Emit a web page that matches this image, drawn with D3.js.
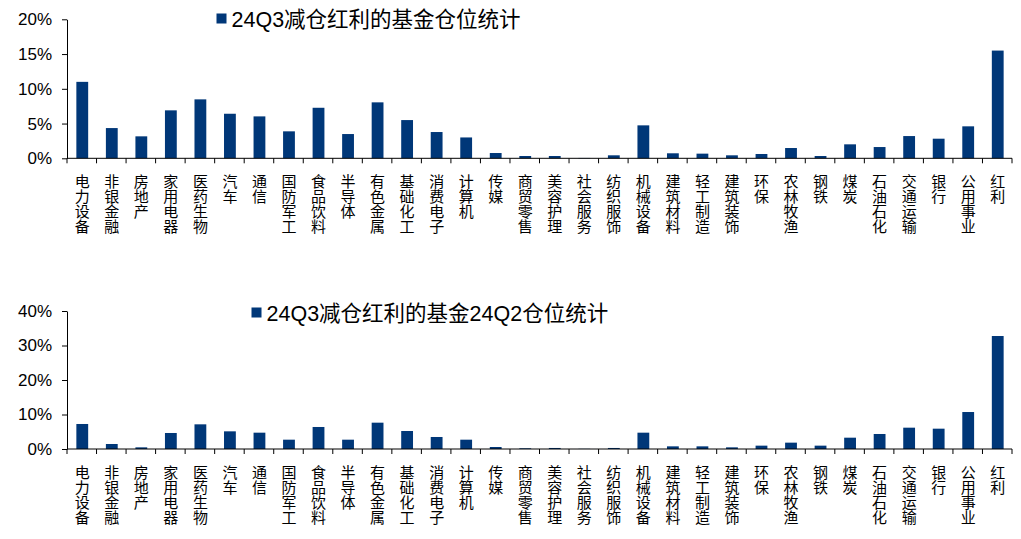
<!DOCTYPE html>
<html><head><meta charset="utf-8">
<script src="https://cdn.jsdelivr.net/npm/d3@7"></script>
<style>
html,body{margin:0;padding:0;background:#fff;}
svg{display:block;}
text{font-family:"Liberation Sans","Noto Sans CJK SC",sans-serif;fill:#000;}
</style></head>
<body>
<svg id="chart" width="1021" height="539"></svg>
<script>
const categories = ["电力设备","非银金融","房地产","家用电器","医药生物","汽车","通信","国防军工","食品饮料","半导体","有色金属","基础化工","消费电子","计算机","传媒","商贸零售","美容护理","社会服务","纺织服饰","机械设备","建筑材料","轻工制造","建筑装饰","环保","农林牧渔","钢铁","煤炭","石油石化","交通运输","银行","公用事业","红利"];
const q3Values = [11.0,4.35,3.16,6.9,8.48,6.41,6.03,3.88,7.27,3.49,8.05,5.5,3.78,3.0,0.76,0.33,0.33,0.05,0.43,4.74,0.72,0.67,0.43,0.62,1.48,0.33,2.01,1.62,3.2,2.82,4.6,15.5];
const q2Values = [7.25,1.45,0.48,4.64,7.15,5.12,4.73,2.7,6.38,2.7,7.63,5.22,3.48,2.7,0.58,0.2,0.3,0.05,0.3,4.73,0.77,0.77,0.48,0.97,1.84,0.97,3.28,4.35,6.18,5.89,10.72,32.75];
const topTicks = [0,5,10,15,20];
const bottomTicks = [0,10,20,30,40];
const topLegend = "24Q3减仓红利的基金仓位统计";
const bottomLegend = "24Q3减仓红利的基金24Q2仓位统计";

const svg = d3.select("#chart");
const color = "#003778";
const x = d3.scaleBand().domain(categories).range([67,1012]).paddingInner(0).paddingOuter(0);
const bw = x.bandwidth();

function panel(values, ticks, yTop, yBot, legendText, legendX, legendY) {
  const y = d3.scaleLinear().domain([0, ticks[ticks.length-1]]).range([yBot, yTop]);
  const g = svg.append("g");
  g.selectAll("rect.bar").data(values).join("rect")
    .attr("class","bar")
    .attr("x",(d,i)=>x(categories[i]) + bw*0.5 - bw*0.2 + 0.5)
    .attr("width", bw*0.4)
    .attr("y", d=>y(d))
    .attr("height", d=>y(0)-y(d))
    .attr("fill", color);
  const ya = d3.axisLeft(y).tickValues(ticks).tickFormat(d=>d+"%").tickSize(5).tickSizeOuter(0).tickPadding(10);
  const yg = g.append("g").attr("transform","translate(67,0)").call(ya);
  yg.selectAll("text").attr("font-size","17px").attr("font-family","Liberation Sans, Arial, sans-serif");
  yg.selectAll("line,path").attr("stroke","#000");
  g.append("line").attr("x1",x.range()[0]).attr("x2",x.range()[1]).attr("y1",y(0)).attr("y2",y(0)).attr("stroke","#000");
  const bounds = categories.map(c=>x(c)).concat([x.range()[1]]);
  g.selectAll("line.xt").data(bounds).join("line").attr("class","xt")
    .attr("x1",d=>d).attr("x2",d=>d).attr("y1",y(0)).attr("y2",y(0)+5).attr("stroke","#000");
  const lab = g.selectAll("text.cat").data(categories).join("text").attr("class","cat")
    .attr("text-anchor","middle").attr("font-size","15px")
    .attr("font-family","Noto Sans CJK SC, sans-serif");
  lab.each(function(c){
    const t = d3.select(this);
    Array.from(c).forEach((ch,k)=>{
      t.append("tspan").attr("x", x(c)+bw/2+0.5).attr("y", y(0)+29 + k*15).text(ch);
    });
  });
  g.append("rect").attr("x",legendX).attr("y",legendY).attr("width",10).attr("height",10).attr("fill",color);
  g.append("text").attr("x",legendX+15).attr("y",legendY+13.5).attr("font-size","21.5px").text(legendText);
}

panel(q3Values, topTicks, 19.3, 158.3, topLegend, 216.5, 13.5);
panel(q2Values, bottomTicks, 311, 449, bottomLegend, 251.5, 307.5);
</script>
</body></html>
